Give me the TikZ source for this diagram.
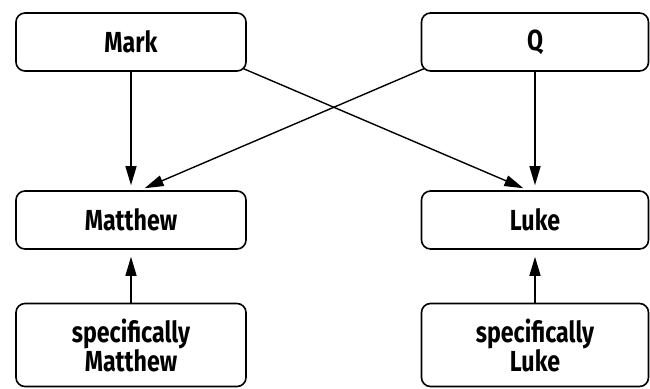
\documentclass[tikz,border=0pt]{standalone}
\usepackage{fontspec}
\setmainfont{Fira Sans}[FakeStretch=0.8]
\usepackage{tikz}
\usetikzlibrary{arrows.meta}
\tikzset{
    gospel/.style={draw, line width=1.6pt, rounded corners=9pt, align=center,
        font=\fontsize{29}{29}\selectfont\bfseries, inner sep=0pt},
    link/.style={-{Triangle[length=19pt,width=11pt]}, line width=1.4pt}
}

\begin{document}
\begin{tikzpicture}[x=1pt,y=-1pt,line cap=round,line join=round]
            \useasboundingbox (0,0) rectangle (650,388);
            \node [gospel, minimum width=230pt, minimum height=58pt] (mark) at (131,42) {Mark};
            \node [gospel, minimum width=227pt, minimum height=58pt] (q) at (535,42) {Q};
            \node [gospel, minimum width=230pt, minimum height=58pt] (matthew) at (131,220) {Matthew};
            \node [gospel, minimum width=227pt, minimum height=58pt] (luke) at (535,220) {Luke};
            \node [gospel, minimum width=230pt, minimum height=83pt] (specmatthew) at (131,345) {specifically\\Matthew};
            \node [gospel, minimum width=227pt, minimum height=83pt] (specluke) at (535,345) {specifically\\Luke};
            \draw [link, shorten >=5pt] (mark) -- (matthew);
            \draw [link, shorten >=5pt] (q) -- (luke);
            \draw [link, shorten >=5pt] ([shift={(-3pt,3pt)}]mark.south east) -- ([xshift=-7pt]luke.north);
            \draw [link, shorten >=5pt] ([shift={(3pt,3pt)}]q.south west) -- ([xshift=9pt]matthew.north);
            \draw [link, shorten >=7pt] (specmatthew) -- (matthew);
            \draw [link, shorten >=7pt] (specluke) -- (luke);
\end{tikzpicture}
\end{document}
